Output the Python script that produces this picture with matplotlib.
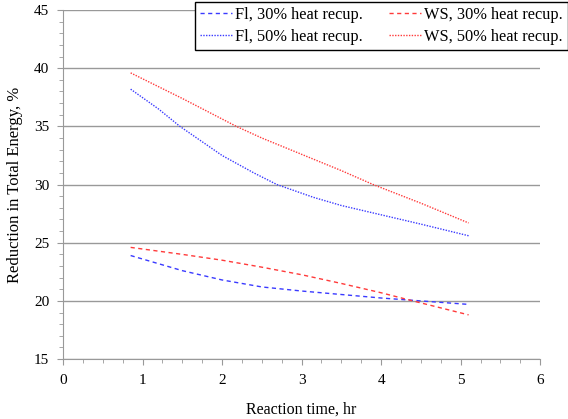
import numpy as np
import matplotlib
matplotlib.use('Agg')
import matplotlib.pyplot as plt
from matplotlib.ticker import MultipleLocator

plt.rcParams['font.family'] = ['Liberation Serif', 'DejaVu Serif']

# values
t_fl30 = [0.85, 1.5, 2.0, 2.5, 3.0, 3.5, 4.0, 4.5, 5.1]
fl30 = [23.9, 22.6, 21.8, 21.2, 20.85, 20.55, 20.25, 20.0, 19.7]
t_ws30 = [0.85, 1.5, 2.0, 2.5, 3.0, 3.5, 4.0, 4.4, 5.1]
ws30 = [24.6, 24.0, 23.5, 22.9, 22.25, 21.5, 20.7, 20.0, 18.8]
t_fl50 = [0.85, 1.2, 1.47, 2.0, 2.4, 2.69, 3.15, 3.5, 4.0, 4.5, 5.1]
fl50 = [38.2, 36.5, 35.0, 32.5, 31.0, 30.0, 28.9, 28.2, 27.4, 26.6, 25.6]
t_ws50 = [0.85, 1.5, 2.18, 2.5, 3.0, 3.5, 3.9, 4.5, 5.1]
ws50 = [39.6, 37.4, 35.0, 34.0, 32.6, 31.2, 30.0, 28.4, 26.7]

blue = '#3a3aff'
red = '#ff3a3a'

fig = plt.figure(figsize=(5.68, 4.19), dpi=100)
ax = fig.add_axes([0.111, 0.143, 0.84, 0.833])

l1, = ax.plot(t_fl30, fl30, ls=(0, (3, 2.5)), color=blue, lw=1.0, label='Fl, 30% heat recup.')
l2, = ax.plot(t_fl50, fl50, ls=(0, (1, 1)), color=blue, lw=1.0, label='Fl, 50% heat recup.')
l3, = ax.plot(t_ws30, ws30, ls=(0, (3, 2.5)), color=red, lw=1.0, label='WS, 30% heat recup.')
l4, = ax.plot(t_ws50, ws50, ls=(0, (1, 1)), color=red, lw=1.0, label='WS, 50% heat recup.')

ax.set_xlim(0, 6)
ax.set_ylim(15, 45)
ax.xaxis.set_major_locator(MultipleLocator(1))
ax.xaxis.set_minor_locator(MultipleLocator(0.25))
ax.yaxis.set_major_locator(MultipleLocator(5))
ax.yaxis.set_minor_locator(MultipleLocator(1))
ax.grid(axis='y', which='major', color='#999999', lw=1.0)
ax.set_axisbelow(True)
for s in ['top', 'right']:
    ax.spines[s].set_visible(False)
for s in ['left', 'bottom']:
    ax.spines[s].set_color('#999999')
ax.tick_params(which='both', colors='#999999', labelcolor='black', labelsize=11)
ax.tick_params(which='major', length=4)
ax.tick_params(which='minor', length=3)
ax.tick_params(axis='x', pad=7)
ax.tick_params(axis='y', pad=6)

ax.set_xlabel('Reaction time, hr', fontsize=11.5, labelpad=10)
ax.set_ylabel('Reduction in Total Energy, %', fontsize=12, labelpad=8)

leg = fig.legend(handles=[l1, l2, l3, l4], ncol=2, loc='upper left',
                 bbox_to_anchor=(193 / 568, 1.0), bbox_transform=fig.transFigure,
                 fontsize=11.8, frameon=True, fancybox=False, framealpha=1,
                 edgecolor='black', handlelength=1.95, handletextpad=0.2,
                 columnspacing=1.6, borderpad=0.3, borderaxespad=0.1,
                 labelspacing=0.4)
leg.get_frame().set_linewidth(1.0)

fig.savefig('out.png', dpi=100)
